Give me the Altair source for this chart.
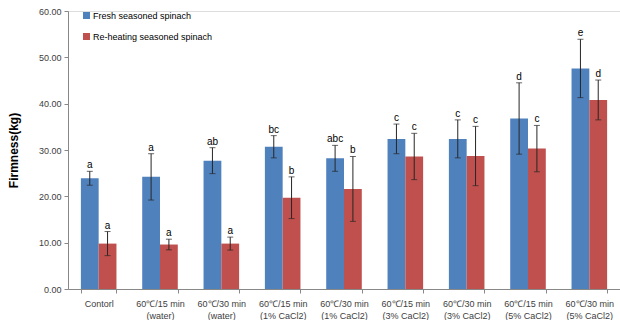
import altair as alt
import pandas as pd

# Treatments (x-axis groups); "\n" splits the axis label onto two lines
categories = [
    "Contorl",
    "60℃/15 min\n(water)",
    "60℃/30 min\n(water)",
    "60℃/15 min\n(1% CaCl2)",
    "60℃/30 min\n(1% CaCl2)",
    "60℃/15 min\n(3% CaCl2)",
    "60℃/30 min\n(3% CaCl2)",
    "60℃/15 min\n(5% CaCl2)",
    "60℃/30 min\n(5% CaCl2)",
]
series = ["Fresh seasoned spinach", "Re-heating seasoned spinach"]

fresh = [23.9, 24.2, 27.7, 30.7, 28.2, 32.4, 32.4, 36.8, 47.6]
fresh_sd = [1.5, 5.0, 2.8, 2.4, 2.8, 3.2, 4.1, 7.7, 6.3]
fresh_sig = ["a", "a", "ab", "bc", "abc", "c", "c", "d", "e"]

reheat = [9.8, 9.6, 9.8, 19.7, 21.6, 28.6, 28.7, 30.3, 40.8]
reheat_sd = [2.6, 1.15, 1.4, 4.5, 7.0, 5.0, 6.4, 5.0, 4.3]
reheat_sig = ["a", "a", "a", "b", "b", "c", "c", "c", "d"]

rows = []
for name, vals, sds, sigs in [
    (series[0], fresh, fresh_sd, fresh_sig),
    (series[1], reheat, reheat_sd, reheat_sig),
]:
    for cat, v, sd, sig in zip(categories, vals, sds, sigs):
        rows.append({"treatment": cat, "group": name, "firmness": v,
                     "lo": v - sd, "hi": v + sd, "sig": sig})
df = pd.DataFrame(rows)

FONT = "Liberation Sans"
TXT = "#404040"

x_enc = alt.X(
    "treatment:N", sort=categories, title=None,
    scale=alt.Scale(paddingInner=0.42, paddingOuter=0.21),
    axis=alt.Axis(
        labelAngle=0, labelExpr="split(datum.label, '\\n')",
        labelFont=FONT, labelFontSize=9, labelColor=TXT, labelLineHeight=12,
        labelPadding=6, tickBand="extent", tickSize=4, tickColor="#888888",
        domainColor="#888888", labelLimit=0,
    ),
)
off_enc = alt.XOffset("group:N", sort=series,
                      scale=alt.Scale(paddingInner=0, paddingOuter=0))

bars = alt.Chart(df).mark_bar().encode(
    x=x_enc,
    xOffset=off_enc,
    y=alt.Y(
        "firmness:Q", title="Firmness(kg)",
        scale=alt.Scale(domain=[0, 60], nice=False),
        axis=alt.Axis(
            values=[0, 10, 20, 30, 40, 50, 60], format=".2f", grid=False,
            labelFont=FONT, labelFontSize=9, labelColor=TXT, labelPadding=3,
            tickSize=4, tickColor="#888888", domainColor="#888888",
            titleFont=FONT, titleFontSize=12, titleFontWeight="bold",
            titleColor="#000000", titlePadding=18,
        ),
    ),
    color=alt.Color(
        "group:N", sort=series,
        scale=alt.Scale(domain=series, range=["#4F81BD", "#C0504D"]),
        legend=alt.Legend(
            title=None, orient="none", legendX=14, legendY=0,
            symbolType="square", symbolSize=49, symbolStrokeWidth=0,
            labelFont=FONT, labelFontSize=9, labelColor="#000000",
            rowPadding=11, symbolOffset=0, labelOffset=2,
        ),
    ),
)

whisker = alt.Chart(df).mark_rule(color="#262626", strokeWidth=1).encode(
    x=alt.X("treatment:N", sort=categories),
    xOffset=off_enc,
    y="lo:Q",
    y2="hi:Q",
)

cap_hi = alt.Chart(df).mark_tick(color="#262626", thickness=1, size=6).encode(
    x=alt.X("treatment:N", sort=categories),
    xOffset=off_enc,
    y="hi:Q",
)
cap_lo = alt.Chart(df).mark_tick(color="#262626", thickness=1, size=6).encode(
    x=alt.X("treatment:N", sort=categories),
    xOffset=off_enc,
    y="lo:Q",
)

letters = alt.Chart(df).mark_text(
    font=FONT, fontSize=10, color="#000000", baseline="bottom", dy=-1
).encode(
    x=alt.X("treatment:N", sort=categories),
    xOffset=off_enc,
    y="hi:Q",
    text="sig:N",
)

chart = (
    alt.layer(bars, whisker, cap_hi, cap_lo, letters)
    .properties(
        width=552, height=278,
        autosize=alt.AutoSizeParams(type="none"),
        padding={"left": 68, "top": 11, "right": 0, "bottom": 31},
    )
    .configure_view(stroke=None)
    .configure(background="#ffffff")
)

chart.save("out.html", embed_options={"renderer": "svg", "actions": False})
